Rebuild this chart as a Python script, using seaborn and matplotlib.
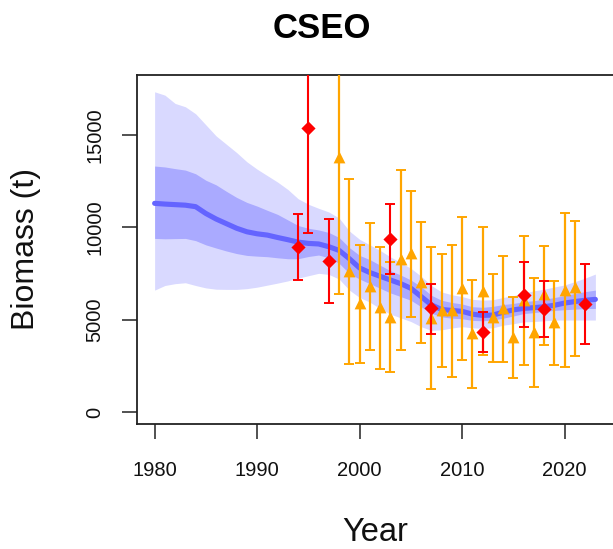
import numpy as np
import pandas as pd
import matplotlib
matplotlib.use("Agg")
import matplotlib.pyplot as plt
import seaborn as sns

# ---------------- data ----------------
model_years = list(range(1980, 2024))
model_mean = [11300, 11260, 11230, 11200, 11120, 10750, 10450, 10200, 9950, 9760,
              9650, 9580, 9450, 9330, 9200, 9130, 9100, 8950, 8750, 8300,
              7800, 7550, 7350, 7150, 6950, 6700, 6250, 5800, 5550, 5500,
              5450, 5300, 5230, 5250, 5400, 5530, 5610, 5650, 5700, 5780,
              5900, 5980, 6050, 6100]
outer_hi = [17340, 17160, 16710, 16530, 16150, 15550, 14950, 14500, 14050, 13550,
            13150, 12800, 12450, 12050, 11550, 11250, 11030, 10830, 10500, 9800,
            9350, 9050, 8750, 8400, 8100, 7780, 7350, 6850, 6500, 6350,
            6250, 6100, 6060, 6080, 6200, 6300, 6450, 6560, 6650, 6770,
            6880, 7060, 7250, 7470]
outer_lo = [6600, 6850, 6950, 7000, 6850, 6720, 6650, 6640, 6640, 6680,
            6760, 6870, 6980, 7100, 7250, 7380, 7510, 7450, 7200, 6600,
            6200, 5950, 5600, 5300, 5100, 4900, 4620, 4420, 4450, 4550,
            4620, 4560, 4530, 4560, 4700, 4780, 4880, 4900, 4940, 4980,
            4980, 4980, 4980, 4980]
inner_hi = [13320, 13270, 13180, 13100, 12900, 12550, 12300, 11950, 11620, 11350,
            11150, 10920, 10700, 10400, 10100, 9950, 9860, 9720, 9450, 8900,
            8480, 8250, 7950, 7650, 7420, 7150, 6780, 6320, 6050, 5930,
            5850, 5700, 5670, 5720, 5820, 5880, 5970, 6030, 6100, 6200,
            6300, 6420, 6520, 6600]
inner_lo = [9400, 9380, 9390, 9400, 9280, 9050, 8880, 8720, 8580, 8480,
            8440, 8410, 8350, 8300, 8300, 8420, 8500, 8350, 8050, 7500,
            7200, 6950, 6700, 6450, 6250, 6050, 5700, 5350, 5150, 5080,
            5050, 4960, 4940, 4980, 5080, 5200, 5330, 5380, 5450, 5500,
            5540, 5570, 5600, 5610]

survey2_years = list(range(1998, 2022))
survey2_est = [13800, 7650, 5880, 6820, 5680, 5140, 8270, 8630, 7060, 5100,
               5520, 5520, 6690, 4260, 6570, 5160, 5610, 4040, 6060, 4350,
               6390, 4890, 6600, 6750]
survey2_lo = [6400, 2600, 2630, 3360, 2310, 2150, 3360, 5160, 3760, 1270,
              2420, 1910, 2820, 1280, 3090, 2690, 2690, 1820, 2540, 1340,
              3630, 2540, 2420, 3050]
survey2_hi = [24000, 12620, 9040, 10250, 8950, 8150, 13130, 11990, 10290, 8910,
              8550, 9040, 10540, 7150, 10000, 7470, 8450, 6240, 9530, 7280,
              9000, 7090, 10770, 10340]

survey1_years = [1994, 1995, 1997, 2003, 2007, 2012, 2016, 2018, 2022]
survey1_est = [8920, 15390, 8180, 9350, 5610, 4350, 6330, 5560, 5830]
survey1_lo = [7150, 9680, 5920, 7470, 4220, 3230, 4590, 4040, 3680]
survey1_hi = [10700, 22000, 10430, 11250, 6910, 5400, 8100, 7090, 8010]

x_ticks = [1980, 1990, 2000, 2010, 2020]
y_ticks = [0, 5000, 10000, 15000]
title = "CSEO"
x_label = "Year"
y_label = "Biomass (t)"

# ---------------- plot ----------------
sns.set_theme(style="white")
plt.rcParams["font.family"] = ["Liberation Sans", "DejaVu Sans"]

W, H = 613, 549
fig = plt.figure(figsize=(W / 100, H / 100), dpi=100)
# the right edge of the plot box lies just beyond the picture, as in the reference
ax = fig.add_axes([137 / W, (H - 424) / H, 479 / W, 349 / H])

model_df = pd.DataFrame({"Year": model_years, "mean": model_mean,
                         "olo": outer_lo, "ohi": outer_hi,
                         "ilo": inner_lo, "ihi": inner_hi})
ax.fill_between(model_df["Year"], model_df["olo"], model_df["ohi"],
                color="#d9d9ff", linewidth=0, zorder=1)
ax.fill_between(model_df["Year"], model_df["ilo"], model_df["ihi"],
                color="#aaaaff", linewidth=0, zorder=2)
sns.lineplot(data=model_df, x="Year", y="mean", ax=ax, color="#6464ff",
             linewidth=3.7, solid_capstyle="round", zorder=3)

s2 = pd.DataFrame({"Year": survey2_years, "est": survey2_est,
                   "lo": survey2_lo, "hi": survey2_hi})
ax.errorbar(s2["Year"], s2["est"],
            yerr=[s2["est"] - s2["lo"], s2["hi"] - s2["est"]],
            fmt="none", ecolor="#ffa500", elinewidth=1.6, capsize=3.5,
            capthick=1.4, zorder=4)
sns.scatterplot(data=s2, x="Year", y="est", ax=ax, marker="^", s=72,
                color="#ffa500", linewidth=0, zorder=5)

s1 = pd.DataFrame({"Year": survey1_years, "est": survey1_est,
                   "lo": survey1_lo, "hi": survey1_hi})
ax.errorbar(s1["Year"], s1["est"],
            yerr=[s1["est"] - s1["lo"], s1["hi"] - s1["est"]],
            fmt="none", ecolor="#ff0000", elinewidth=1.5, capsize=3.5,
            capthick=1.4, zorder=6)
sns.scatterplot(data=s1, x="Year", y="est", ax=ax, marker="D", s=52,
                color="#ff0000", linewidth=0, zorder=7)

ax.set_xlim(1978.28, 1978.28 + 479 / 10.25)
ax.set_ylim(-650, 18250)
ax.set_xticks(x_ticks)
ax.set_yticks(y_ticks)
ax.set_xticklabels([str(v) for v in x_ticks])
ax.set_yticklabels([str(v) for v in y_ticks], rotation=90, va="center")

for sp in ax.spines.values():
    sp.set_visible(True)
    sp.set_color("#222222")
    sp.set_linewidth(1.3)

ax.tick_params(axis="both", direction="out", length=10.8, width=1.1,
               color="#222222", labelcolor="#111111", labelsize=14.5)
ax.tick_params(axis="x", pad=16, bottom=True)
ax.tick_params(axis="y", pad=12.5, left=True)

ax.set_xlabel(x_label, fontsize=23.5, color="#111111")
ax.xaxis.label.set_va("baseline")
ax.xaxis.label.set_ha("center")
ax.xaxis.set_label_coords((375 - 137) / 479, (424 - 541) / 349)
ax.set_ylabel(y_label, fontsize=23, color="#111111")
ax.yaxis.label.set_va("center")
ax.yaxis.set_label_coords((26.5 - 137) / 479, 0.5)

fig.text(321.7 / W, 1 - 29 / H, title, ha="center", va="center",
         fontsize=25, fontweight="bold", color="#000000")

ax.grid(False)
fig.savefig("out.png", dpi=100)
